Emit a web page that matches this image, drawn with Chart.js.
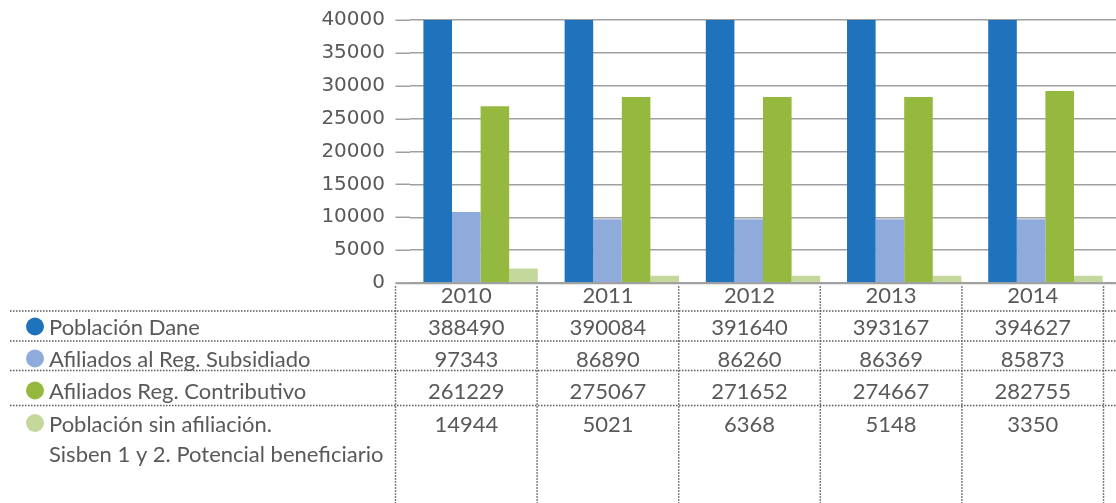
<!DOCTYPE html>
<html>
<head>
<meta charset="utf-8">
<script src="https://cdn.jsdelivr.net/npm/chart.js@4.4.0/dist/chart.umd.min.js"></script>
<style>
  html, body { margin: 0; padding: 0; background: #fff; }
  #wrap { width: 1116px; height: 503px; }
</style>
</head>
<body>
<div id="wrap"><canvas id="chart" width="1116" height="503"></canvas></div>
<script>
const years = ['2010', '2011', '2012', '2013', '2014'];

// row labels of the data table (last one wraps to two lines)
const seriesLabels = [
  ['Población Dane'],
  ['Afiliados al Reg. Subsidiado'],
  ['Afiliados Reg. Contributivo'],
  ['Población sin afiliación.', 'Sisben 1 y 2. Potencial beneficiario']
];

// values printed in the table
const poblacionDane = [388490, 390084, 391640, 393167, 394627];
const afiliadosSubsidiado = [97343, 86890, 86260, 86369, 85873];
const afiliadosContributivo = [261229, 275067, 271652, 274667, 282755];
const sinAfiliacion = [14944, 5021, 6368, 5148, 3350];

// bar heights as drawn in the plot (the Dane bars run off the top of the axis)
const barDane = [40000, 40000, 40000, 40000, 40000];
const barSubsidiado = [10800, 9700, 9700, 9700, 9700];
const barContributivo = [26900, 28300, 28300, 28300, 29200];
const barSinAfiliacion = [2200, 1100, 1100, 1100, 1100];

const yTicks = [0, 5000, 10000, 15000, 20000, 25000, 30000, 35000, 40000];

const colors = ['#1f73bc', '#8fabdb', '#95b93f', '#c5d89b'];
const textColor = '#595959';
const gridColor = '#a0a0a0';

// table layout
const tableLeft = 395.5;
const colW = 141.6;
const hLines = [311, 341, 370.5, 405.5];
const yearBase = 302.5;
const rowBase = [335, 367, 399, 431.5];
const lineGap = 30;

const tableRows = [poblacionDane, afiliadosSubsidiado, afiliadosContributivo, sinAfiliacion];

const tablePlugin = {
  id: 'dataTable',
  afterDraw(chart) {
    const ctx = chart.ctx;
    const y = chart.scales.y;
    const area = chart.chartArea;
    const W = chart.width, H = chart.height;
    ctx.save();

    // gridlines reach left to the table edge
    ctx.strokeStyle = gridColor;
    ctx.lineWidth = 1.5;
    yTicks.forEach(v => {
      const py = Math.round(y.getPixelForValue(v)) + 0.25;
      ctx.beginPath();
      ctx.moveTo(tableLeft, py);
      ctx.lineTo(area.left, py);
      ctx.stroke();
    });
    // category axis line
    const y0 = Math.round(y.getPixelForValue(0)) + 0.25;
    ctx.lineWidth = 2;
    ctx.beginPath();
    ctx.moveTo(tableLeft, y0);
    ctx.lineTo(W, y0);
    ctx.stroke();

    // dotted table lines
    ctx.strokeStyle = textColor;
    ctx.lineWidth = 1.5;
    ctx.setLineDash([1.5, 1.5]);
    hLines.forEach(ly => {
      ctx.beginPath();
      ctx.moveTo(10, ly);
      ctx.lineTo(W, ly);
      ctx.stroke();
    });
    for (let i = 0; i <= years.length; i++) {
      const lx = tableLeft + i * colW;
      ctx.beginPath();
      ctx.moveTo(lx, y0 + 3);
      ctx.lineTo(lx, H);
      ctx.stroke();
    }
    ctx.setLineDash([]);

    // text
    ctx.fillStyle = textColor;
    ctx.font = '22px Lato';
    ctx.textBaseline = 'alphabetic';
    ctx.textAlign = 'center';
    years.forEach((yr, i) => {
      ctx.fillText(yr, tableLeft + (i + 0.5) * colW, yearBase);
    });
    tableRows.forEach((vals, r) => {
      vals.forEach((v, i) => {
        ctx.fillText(String(v), tableLeft + (i + 0.5) * colW, rowBase[r]);
      });
    });

    ctx.textAlign = 'left';
    seriesLabels.forEach((lines, r) => {
      ctx.fillStyle = colors[r];
      ctx.beginPath();
      ctx.arc(35, rowBase[r] - 8.5, 9, 0, Math.PI * 2);
      ctx.fill();
      ctx.fillStyle = textColor;
      lines.forEach((t, k) => ctx.fillText(t, 49, rowBase[r] + k * lineGap));
    });

    ctx.restore();
  }
};

new Chart(document.getElementById('chart'), {
  type: 'bar',
  data: {
    labels: years,
    datasets: [
      { label: seriesLabels[0].join(' '), data: barDane, backgroundColor: colors[0] },
      { label: seriesLabels[1].join(' '), data: barSubsidiado, backgroundColor: colors[1] },
      { label: seriesLabels[2].join(' '), data: barContributivo, backgroundColor: colors[2] },
      { label: seriesLabels[3].join(' '), data: barSinAfiliacion, backgroundColor: colors[3] }
    ]
  },
  options: {
    responsive: false,
    animation: false,
    layout: { padding: { top: 20, right: 0, bottom: 220, left: 0 } },
    plugins: { legend: { display: false }, tooltip: { enabled: false } },
    datasets: { bar: { categoryPercentage: 0.81, barPercentage: 1 } },
    scales: {
      x: { display: false },
      y: {
        min: 0,
        max: 40000,
        afterBuildTicks: s => { s.ticks = yTicks.map(v => ({ value: v })); },
        afterFit: s => { s.width = 410; s.paddingTop = 0; s.paddingBottom = 0; },
        grid: { color: gridColor, lineWidth: 1.5, drawTicks: false },
        border: { display: false },
        ticks: {
          padding: 25,
          color: textColor,
          font: { family: 'DejaVu Sans', size: 20 },
          callback: v => String(v)
        }
      }
    }
  },
  plugins: [tablePlugin]
});
</script>
</body>
</html>
